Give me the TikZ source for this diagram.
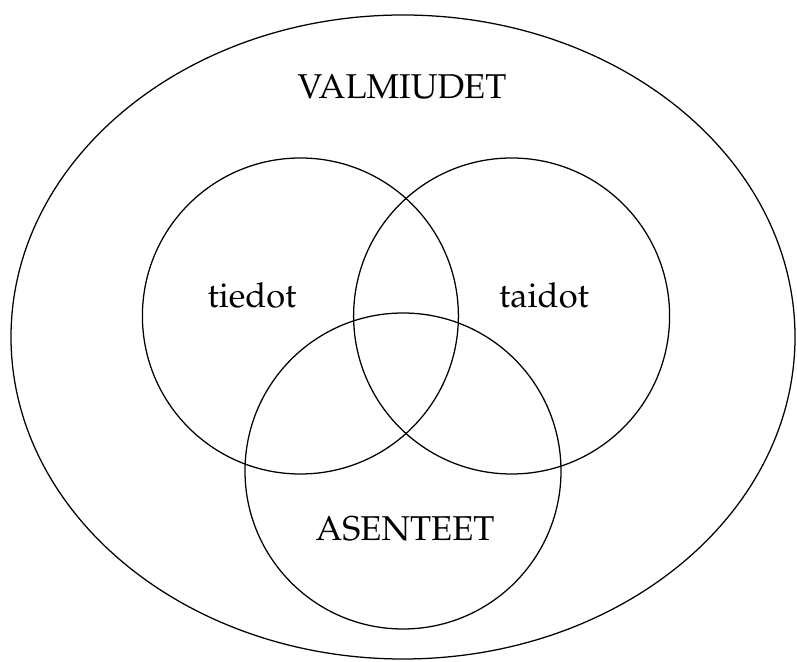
\documentclass[tikz,border=0pt]{standalone}
\usepackage[T1]{fontenc}
\usepackage{mathpazo}
\usepackage{tikz}
\usetikzlibrary{positioning}

\begin{document}
\begin{tikzpicture}[line width=0.9pt,
    lbl/.style={anchor=base, inner sep=0pt, font=\fontsize{24.5}{29}\selectfont}]
  \useasboundingbox (0,0) rectangle (19.925,16.55);
  \def\ring#1#2{
    \draw (#1,#2) circle (3.95);
  }
  % outer set
  \draw (10.075,8.125) ellipse (9.8 and 8.05);
  \node[lbl] (valmiudet) at (10.05,14.075) {VALMIUDET};

  % three circles
  \ring{7.51}{8.65}
  \ring{12.79}{8.65}
  \ring{10.075}{4.775}
  \node[lbl] (tiedot) at (6.3,8.85) {tiedot};
  \node[lbl] (taidot) at (13.6,8.85) {taidot};
  \node[lbl] (asenteet) at (10.125,3.025) {ASENTEET};
\end{tikzpicture}
\end{document}
